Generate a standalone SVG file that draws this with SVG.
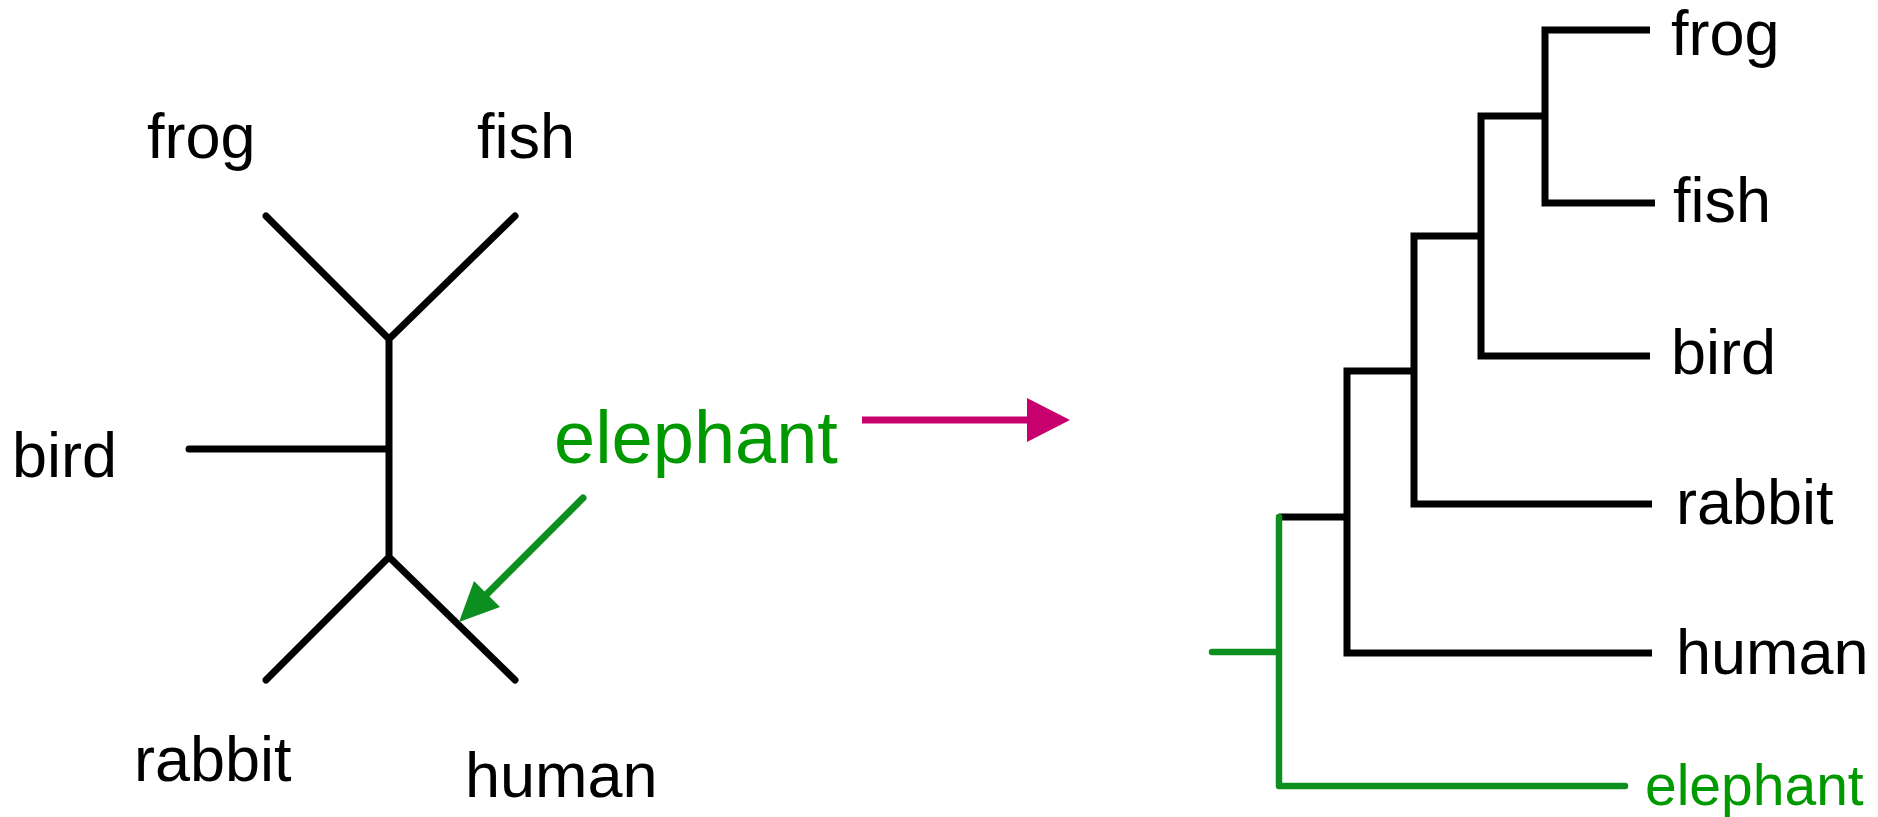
<svg xmlns="http://www.w3.org/2000/svg" width="1878" height="817" viewBox="0 0 1878 817">
  <style>
    .lbl { font-family: "Liberation Sans", Arial, sans-serif; font-size: 63px; fill: #000; }
    .grn { fill: #009900; }
    .br { fill: none; stroke: #000; stroke-width: 7; stroke-linecap: round; stroke-linejoin: round; }
    .gbr { fill: none; stroke: #0c8f1e; stroke-width: 6.5; stroke-linecap: round; stroke-linejoin: round; }
  </style>
  <rect width="1878" height="817" fill="#fff"/>

  <!-- unrooted tree -->
  <g id="unrooted-tree">
    <path class="br" d="M266,216 L389,339 L515,216 M389,339 L389,557 M189,449 L389,449 M266,680 L389,557 L515,680"/>
  </g>
  <g id="u-frog"><text class="lbl" x="147" y="158">frog</text></g>
  <g id="u-fish"><text class="lbl" x="477" y="158">fish</text></g>
  <g id="u-bird"><text class="lbl" x="12" y="477">bird</text></g>
  <g id="u-rabbit"><text class="lbl" x="134" y="781">rabbit</text></g>
  <g id="u-human"><text class="lbl" x="465" y="797">human</text></g>
  <g id="u-elephant"><text class="lbl grn" x="554" y="463" style="font-size:74px">elephant</text></g>

  <!-- rooted tree -->
  <g id="rooted-tree">
    <path class="br" style="stroke-linecap:butt;stroke-linejoin:miter" d="M1650,30 L1545,30 L1545,203 L1655,203 M1545,116 L1481,116 L1481,356 L1650,356 M1481,236 L1414,236 L1414,504 L1652,504 M1414,371 L1347,371 L1347,653 L1652,653 M1347,517 L1279,517"/>
    <path class="gbr" d="M1279,517 L1279,786 L1625,786 M1212,652 L1279,652"/>
  </g>
  <g id="r-frog"><text class="lbl" x="1671" y="55">frog</text></g>
  <g id="r-fish"><text class="lbl" x="1673" y="222">fish</text></g>
  <g id="r-bird"><text class="lbl" x="1671" y="374">bird</text></g>
  <g id="r-rabbit"><text class="lbl" x="1676" y="524">rabbit</text></g>
  <g id="r-human"><text class="lbl" x="1676" y="674">human</text></g>
  <g id="r-elephant"><text class="lbl grn" x="1645" y="805" style="font-size:57px">elephant</text></g>

  <!-- connectors -->
  <g id="connectors">
    <line x1="583" y1="498" x2="468" y2="613" stroke="#0c8f1e" stroke-width="7" stroke-linecap="round"/>
    <path d="M459,622 L474,581 L500,607 Z" fill="#0c8f1e"/>
    <line x1="862" y1="420" x2="1030" y2="420" stroke="#c8006e" stroke-width="7"/>
    <path d="M1027,398 L1070,420 L1027,442 Z" fill="#c8006e"/>
  </g>
</svg>
